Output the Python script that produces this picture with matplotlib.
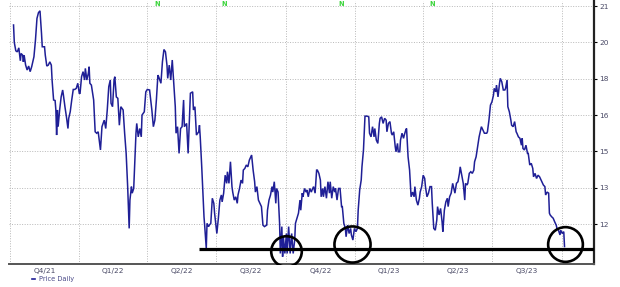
import numpy as np
import pandas as pd
import matplotlib
matplotlib.use("Agg")
import matplotlib.pyplot as plt
import matplotlib.transforms as mtransforms
from matplotlib.lines import Line2D

# ---------------- data ----------------
dates = [
 "2021-10-06","2021-10-07","2021-10-09","2021-10-11","2021-10-13","2021-10-15","2021-10-16","2021-10-18",
 "2021-10-19","2021-10-20","2021-10-22","2021-10-24","2021-10-26","2021-10-28","2021-10-30","2021-11-02",
 "2021-11-04","2021-11-06","2021-11-08","2021-11-10","2021-11-12","2021-11-13","2021-11-16","2021-11-17",
 "2021-11-19","2021-11-21","2021-11-23","2021-11-25","2021-11-26","2021-11-28","2021-11-30","2021-12-01",
 "2021-12-02","2021-12-03","2021-12-04","2021-12-06","2021-12-08","2021-12-10","2021-12-11","2021-12-13",
 "2021-12-15","2021-12-17","2021-12-18","2021-12-20","2021-12-22","2021-12-24","2021-12-26","2021-12-28",
 "2021-12-30","2022-01-01","2022-01-02","2022-01-04","2022-01-06","2022-01-08","2022-01-09","2022-01-11",
 "2022-01-13","2022-01-14","2022-01-15","2022-01-17","2022-01-20","2022-01-22","2022-01-24","2022-01-26",
 "2022-01-29","2022-01-31","2022-02-03","2022-02-05","2022-02-07","2022-02-09","2022-02-11","2022-02-12",
 "2022-02-14","2022-02-16","2022-02-17","2022-02-19","2022-02-21","2022-02-23","2022-02-25","2022-02-28",
 "2022-03-02","2022-03-04","2022-03-06","2022-03-08","2022-03-09","2022-03-11","2022-03-12","2022-03-14",
 "2022-03-17","2022-03-18","2022-03-20","2022-03-22","2022-03-24","2022-03-25","2022-03-28","2022-03-30",
 "2022-04-01","2022-04-04","2022-04-07","2022-04-09","2022-04-11","2022-04-13","2022-04-15","2022-04-16",
 "2022-04-19","2022-04-21","2022-04-23","2022-04-25","2022-04-27","2022-04-28","2022-04-30","2022-05-02",
 "2022-05-04","2022-05-06","2022-05-08","2022-05-09","2022-05-11","2022-05-13","2022-05-15","2022-05-17",
 "2022-05-19","2022-05-20","2022-05-23","2022-05-25","2022-05-28","2022-05-31","2022-06-01","2022-06-03",
 "2022-06-05","2022-06-08","2022-06-09","2022-06-10","2022-06-12","2022-06-14","2022-06-15","2022-06-16",
 "2022-06-18","2022-06-19","2022-06-21","2022-06-22","2022-06-24","2022-06-26","2022-06-28","2022-06-29",
 "2022-06-30","2022-07-02","2022-07-04","2022-07-06","2022-07-08","2022-07-09","2022-07-11","2022-07-13",
 "2022-07-15","2022-07-16","2022-07-18","2022-07-20","2022-07-22","2022-07-23","2022-07-25","2022-07-27",
 "2022-07-29","2022-07-30","2022-08-01","2022-08-03","2022-08-05","2022-08-06","2022-08-08","2022-08-10",
 "2022-08-12","2022-08-14","2022-08-15","2022-08-17","2022-08-19","2022-08-21","2022-08-22","2022-08-24",
 "2022-08-26","2022-08-28","2022-08-30","2022-09-01","2022-09-03","2022-09-06","2022-09-07","2022-09-09",
 "2022-09-11","2022-09-13","2022-09-14","2022-09-16","2022-09-18","2022-09-19","2022-09-21","2022-09-23",
 "2022-09-24","2022-09-26","2022-09-27","2022-09-28","2022-09-30","2022-10-02","2022-10-03","2022-10-05",
 "2022-10-07","2022-10-09","2022-10-11","2022-10-13","2022-10-14","2022-10-16","2022-10-18","2022-10-20",
 "2022-10-21","2022-10-23","2022-10-24","2022-10-26","2022-10-28","2022-10-29","2022-10-31","2022-11-02",
 "2022-11-04","2022-11-05","2022-11-07","2022-11-09","2022-11-11","2022-11-12","2022-11-14","2022-11-16",
 "2022-11-17","2022-11-19","2022-11-20","2022-11-22","2022-11-24","2022-11-26","2022-11-28","2022-11-29",
 "2022-12-01","2022-12-03","2022-12-05","2022-12-06","2022-12-08","2022-12-10","2022-12-12","2022-12-14",
 "2022-12-15","2022-12-17","2022-12-19","2022-12-20","2022-12-22","2022-12-24","2022-12-26","2022-12-27",
 "2022-12-29","2022-12-31","2023-01-02","2023-01-04","2023-01-05","2023-01-07","2023-01-09","2023-01-10",
 "2023-01-12","2023-01-13","2023-01-14","2023-01-17","2023-01-19","2023-01-20","2023-01-22","2023-01-24",
 "2023-01-26","2023-01-27","2023-01-29","2023-01-31","2023-02-02","2023-02-03","2023-02-05","2023-02-07",
 "2023-02-09","2023-02-11","2023-02-12","2023-02-14","2023-02-16","2023-02-18","2023-02-19","2023-02-21",
 "2023-02-23","2023-02-24","2023-02-26","2023-02-27","2023-03-01","2023-03-02","2023-03-04","2023-03-06",
 "2023-03-07","2023-03-09","2023-03-10","2023-03-12","2023-03-14","2023-03-16","2023-03-18","2023-03-20",
 "2023-03-21","2023-03-23","2023-03-25","2023-03-27","2023-03-28","2023-03-30","2023-04-01","2023-04-03",
 "2023-04-04","2023-04-06","2023-04-08","2023-04-10","2023-04-12","2023-04-13","2023-04-15","2023-04-17",
 "2023-04-19","2023-04-20","2023-04-22","2023-04-24","2023-04-26","2023-04-27","2023-04-29","2023-05-01",
 "2023-05-03","2023-05-04","2023-05-06","2023-05-08","2023-05-10","2023-05-11","2023-05-13","2023-05-15",
 "2023-05-17","2023-05-19","2023-05-20","2023-05-22","2023-05-24","2023-05-26","2023-05-27","2023-05-29",
 "2023-05-30","2023-06-01","2023-06-03","2023-06-05","2023-06-07","2023-06-08","2023-06-10","2023-06-12",
 "2023-06-14","2023-06-17","2023-06-19","2023-06-21","2023-06-24","2023-06-25","2023-06-27","2023-06-29",
 "2023-07-01","2023-07-03","2023-07-04","2023-07-06","2023-07-07","2023-07-09","2023-07-11","2023-07-12",
 "2023-07-14","2023-07-16","2023-07-18","2023-07-19","2023-07-21","2023-07-22","2023-07-24","2023-07-26",
 "2023-07-27","2023-07-29","2023-07-31","2023-08-02","2023-08-03","2023-08-05","2023-08-07","2023-08-09",
 "2023-08-10","2023-08-11","2023-08-13","2023-08-15","2023-08-17","2023-08-18","2023-08-20","2023-08-22",
 "2023-08-24","2023-08-25","2023-08-27","2023-08-29","2023-08-31","2023-09-02","2023-09-03","2023-09-05",
 "2023-09-07","2023-09-09","2023-09-10","2023-09-12","2023-09-14","2023-09-15","2023-09-16","2023-09-18",
 "2023-09-20","2023-09-22","2023-09-24","2023-09-25","2023-09-27","2023-09-29","2023-09-30","2023-10-02",
 "2023-10-04","2023-10-05",
]

prices = [
 20.48,20.00,19.54,19.48,19.70,18.99,19.39,19.30,
 18.93,19.30,18.75,18.48,18.70,18.39,18.66,19.21,
 20.06,20.66,20.82,20.87,20.25,19.76,19.76,19.30,
 18.70,18.75,18.93,18.75,17.93,16.83,16.80,16.28,
 15.45,16.28,15.68,16.28,17.00,17.38,17.10,16.46,
 15.95,15.63,15.91,16.18,16.83,17.41,17.41,17.47,
 17.75,17.20,17.20,18.11,18.39,17.93,18.57,17.93,
 18.30,18.66,17.75,17.65,16.83,15.54,15.50,15.54,
 15.04,15.68,15.86,15.63,16.28,17.56,17.93,16.65,
 16.46,17.93,18.11,17.00,16.92,15.72,16.46,16.28,
 15.50,14.89,13.06,11.88,12.66,13.06,12.85,12.98,
 15.50,15.77,15.40,15.63,15.40,16.00,16.18,17.28,
 17.41,17.38,16.28,15.68,15.86,16.83,18.20,18.11,
 17.75,18.93,19.61,19.48,18.75,18.02,18.75,17.93,
 19.03,17.75,16.46,15.50,15.68,14.89,15.63,15.68,
 16.83,15.68,15.77,14.89,17.20,17.28,16.28,16.46,
 15.45,15.54,15.72,15.40,14.15,12.66,12.20,11.93,
 11.33,12.02,11.93,11.97,12.02,12.71,12.57,12.30,
 12.11,11.74,12.16,12.66,12.80,12.61,12.85,13.69,
 13.24,13.88,13.24,14.43,13.06,12.88,12.66,12.75,
 12.57,12.80,12.98,13.42,13.24,13.97,14.06,14.25,
 14.15,14.52,14.61,14.80,13.97,13.33,12.88,13.06,
 12.66,12.57,12.48,11.97,11.93,11.97,12.38,12.66,
 12.80,13.06,12.88,13.33,12.57,12.98,12.88,12.02,
 11.19,11.93,11.10,11.65,11.19,11.74,11.19,11.93,
 11.19,11.74,11.19,11.56,12.02,12.16,12.30,12.66,
 12.38,12.85,12.75,12.98,12.88,12.94,12.75,12.98,
 12.88,12.94,13.06,12.85,13.97,13.97,13.79,13.42,
 12.75,12.98,12.75,13.06,12.71,13.33,12.85,13.33,
 12.71,13.06,12.88,12.98,12.66,12.98,12.98,12.48,
 12.48,12.02,11.88,11.65,11.97,11.74,11.88,11.70,
 11.56,11.88,11.79,11.88,12.38,12.94,13.42,14.15,
 15.04,15.50,15.97,15.97,15.95,15.50,15.40,15.68,
 15.40,15.63,15.31,15.22,15.77,15.91,15.95,15.77,
 15.91,15.86,15.54,15.77,15.82,15.50,15.45,15.54,
 15.13,14.98,15.22,14.98,14.98,15.31,15.50,15.36,
 15.45,15.59,15.63,14.70,13.97,12.75,12.88,12.75,
 13.06,12.66,12.52,12.71,12.88,13.06,13.69,13.51,
 13.06,12.75,12.85,13.06,13.06,12.57,11.88,11.83,
 12.11,12.48,12.25,12.43,12.06,11.79,12.38,12.61,
 12.71,12.48,12.75,12.85,13.24,13.06,12.85,13.24,
 13.33,13.79,14.15,13.69,13.24,12.66,13.24,13.15,
 13.24,13.79,13.88,13.79,13.97,14.43,14.70,15.13,
 15.40,15.68,15.59,15.50,15.50,15.54,15.86,16.55,
 16.73,17.10,17.47,17.28,17.65,17.00,17.75,18.02,
 17.83,17.38,17.38,17.47,17.93,16.46,16.18,15.86,
 15.72,15.68,15.82,15.54,15.50,15.40,15.36,15.17,
 15.36,15.08,15.04,15.17,14.89,14.89,14.25,14.34,
 14.06,13.60,13.79,13.51,13.69,13.60,13.51,13.33,
 13.15,13.06,12.80,12.88,12.85,12.30,12.25,12.20,
 12.16,12.06,11.97,11.88,11.83,11.70,11.83,11.74,
 11.79,11.38,
]

y_tick_values = [12, 13, 15, 16, 18, 20, 21]
y_tick_labels = ["12", "13", "15", "16", "18", "20", "21"]
quarter_starts = ["2021-10-01", "2022-01-01", "2022-04-01", "2022-07-01", "2022-10-01",
                  "2023-01-01", "2023-04-01", "2023-07-01", "2023-10-01"]
quarter_labels = ["Q4/21", "Q1/22", "Q2/22", "Q3/22", "Q4/22", "Q1/23", "Q2/23", "Q3/23"]
news_dates = ["2022-04-14", "2022-07-12", "2022-12-14", "2023-04-13"]
support_start = "2022-06-08"
support_level = 11.31
circle_dates = ["2022-10-02", "2022-12-28", "2023-10-05"]
circle_levels = [11.26, 11.45, 11.45]
circle_sizes = [22, 26, 25]

# ---------------- scale ----------------
LBL = np.array(y_tick_values, float)
POS = np.arange(len(LBL), dtype=float)

def fwd(v):
    v = np.asarray(v, float)
    out = np.interp(v, LBL, POS)
    out = np.where(v < LBL[0], v - LBL[0], out)
    out = np.where(v > LBL[-1], POS[-1] + (v - LBL[-1]), out)
    return out

def inv(p):
    p = np.asarray(p, float)
    out = np.interp(p, POS, LBL)
    out = np.where(p < 0, LBL[0] + p, out)
    out = np.where(p > POS[-1], LBL[-1] + (p - POS[-1]), out)
    return out

# ---------------- figure ----------------
W, H = 620, 287
fig = plt.figure(figsize=(W / 100, H / 100), dpi=100)
fig.patch.set_facecolor("white")
left_px, right_px, top_px, bot_px = 9, 594, 1, 264
ax = fig.add_axes([left_px / W, (H - bot_px) / H, (right_px - left_px) / W, (bot_px - top_px) / H])

ax.set_yscale("function", functions=(fwd, inv))
ax.set_ylim(10.9, 21.14)
ax.set_xlim(pd.Timestamp("2021-09-30"), pd.Timestamp("2023-11-13"))

x = pd.to_datetime(dates)
line, = ax.plot(x, prices, color="#1f1f96", lw=1.1, solid_joinstyle="miter", zorder=3)

# support line and circles
ax.plot([pd.Timestamp(support_start), pd.Timestamp("2023-11-13")], [support_level, support_level],
        color="black", lw=2.3, zorder=4, solid_capstyle="butt")
for d, lv, s in zip(circle_dates, circle_levels, circle_sizes):
    ax.plot([pd.Timestamp(d)], [lv], marker="o", ms=s, mfc="none", mec="black", mew=1.9, zorder=5)

# news markers
trans = mtransforms.blended_transform_factory(ax.transData, ax.transAxes)
for d in news_dates:
    ax.text(pd.Timestamp(d), 0.988, "N", transform=trans, color="#3ad43a", fontsize=4.8,
            fontweight="bold", ha="center", va="center", zorder=6)

# y axis on right
ax.yaxis.tick_right()
ax.set_yticks(y_tick_values)
ax.set_yticklabels(y_tick_labels)
ax.yaxis.set_minor_locator(matplotlib.ticker.NullLocator())
ax.tick_params(axis="y", which="major", length=2.5, width=0.8, color="black", labelsize=5.3,
               labelcolor="#4a4a66", pad=1.5)

# x axis: gridlines at quarter starts, labels in the middle
qs = pd.to_datetime(quarter_starts)
mids = [qs[i] + (qs[i + 1] - qs[i]) / 2 for i in range(len(qs) - 1)]
ax.set_xticks(qs)
ax.set_xticklabels([""] * len(qs))
ax.set_xticks(mids, minor=True)
ax.set_xticklabels(quarter_labels, minor=True)
ax.tick_params(axis="x", which="both", length=0, labelsize=5.3, labelcolor="#4a4a66", pad=3)

ax.grid(True, which="major", axis="both", color="#b8b8b8", lw=0.7, linestyle=(0, (1.0, 1.6)))
ax.set_axisbelow(True)

for s in ["left", "top"]:
    ax.spines[s].set_visible(False)
ax.spines["right"].set_color("#222222")
ax.spines["right"].set_linewidth(1.6)
ax.spines["bottom"].set_color("#555555")
ax.spines["bottom"].set_linewidth(1.4)

# legend
handle = Line2D([0], [0], color="#1f1f96", lw=1.2)
fig.legend([handle], ["Price Daily"], loc="center left", bbox_to_anchor=(32 / W, 1 - 279 / H),
           frameon=False, fontsize=4.8, handlelength=0.5, handletextpad=0.5, labelcolor="#4a4a88",
           borderpad=0, borderaxespad=0)

fig.savefig("out.png", dpi=100, facecolor="white")
